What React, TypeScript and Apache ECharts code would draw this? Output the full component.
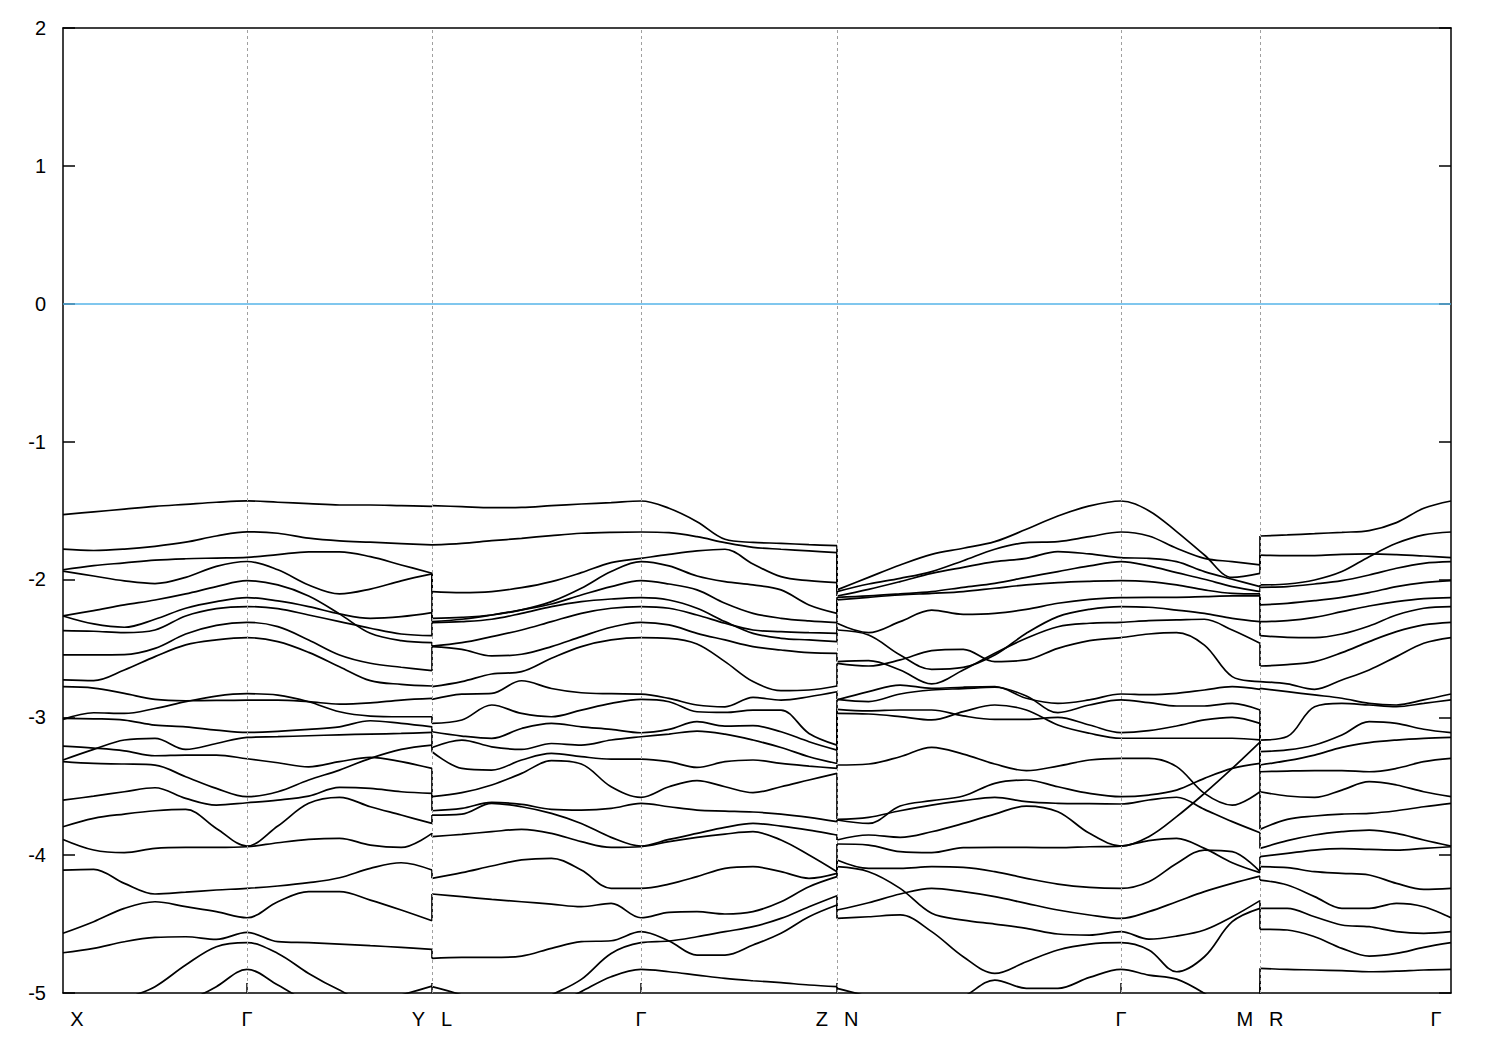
import React, { useEffect, useRef } from "react";
import * as echarts from "echarts";

// k-path (arbitrary distance units along the path)
const PATH_NODES = [0, 184, 369, 578, 774, 1058, 1197, 1388];
const NODE_LABELS = ["X", "Γ", "Y|L", "Γ", "Z|N", "Γ", "M|R", "Γ"];
const GRID_NODES = [184, 369, 578, 774, 1058, 1197];
const PANEL_NODES = [[0, 184, 369], [369, 578, 774], [774, 1058, 1197], [1197, 1388]];
const PANEL_STEPS = [[6, 6], [7, 7], [9, 5], [7]];
const FERMI = 0;

// Panel X-Γ-Y (13 k-points)
const XGY_BANDS = [
  [-1.53, -1.51, -1.49, -1.47, -1.455, -1.44, -1.43, -1.44, -1.45, -1.46, -1.46, -1.465, -1.47],
  [-1.78, -1.79, -1.78, -1.76, -1.73, -1.685, -1.655, -1.665, -1.70, -1.72, -1.73, -1.74, -1.75],
  [-1.93, -1.90, -1.88, -1.86, -1.85, -1.845, -1.84, -1.82, -1.80, -1.80, -1.835, -1.895, -1.955],
  [-1.94, -1.975, -2.01, -2.03, -1.985, -1.905, -1.87, -1.93, -2.04, -2.105, -2.07, -2.01, -1.96],
  [-2.265, -2.226, -2.185, -2.149, -2.105, -2.052, -2.009, -2.04, -2.12, -2.25, -2.391, -2.444, -2.458],
  [-2.265, -2.323, -2.347, -2.289, -2.209, -2.161, -2.132, -2.156, -2.197, -2.25, -2.282, -2.27, -2.241],
  [-2.371, -2.376, -2.386, -2.367, -2.265, -2.212, -2.197, -2.212, -2.258, -2.306, -2.354, -2.396, -2.408],
  [-2.548, -2.548, -2.546, -2.5, -2.396, -2.333, -2.311, -2.342, -2.439, -2.548, -2.608, -2.637, -2.662],
  [-2.729, -2.734, -2.657, -2.56, -2.475, -2.439, -2.422, -2.451, -2.529, -2.633, -2.734, -2.761, -2.773],
  [-2.778, -2.788, -2.827, -2.87, -2.88, -2.878, -2.875, -2.875, -2.887, -2.904, -2.895, -2.875, -2.863],
  [-3.015, -2.967, -2.972, -2.936, -2.887, -2.846, -2.829, -2.839, -2.887, -2.96, -2.991, -2.996, -2.996],
  [-3.008, -3.011, -3.02, -3.057, -3.069, -3.093, -3.11, -3.102, -3.088, -3.069, -3.025, -3.044, -3.069],
  [-3.31, -3.233, -3.165, -3.153, -3.233, -3.19, -3.146, -3.141, -3.134, -3.127, -3.122, -3.117, -3.11],
  [-3.209, -3.223, -3.243, -3.279, -3.274, -3.274, -3.301, -3.33, -3.359, -3.322, -3.291, -3.322, -3.371],
  [-3.322, -3.335, -3.339, -3.347, -3.431, -3.516, -3.576, -3.54, -3.455, -3.383, -3.298, -3.233, -3.202],
  [-3.601, -3.572, -3.54, -3.511, -3.588, -3.637, -3.62, -3.601, -3.572, -3.509, -3.516, -3.54, -3.552],
  [-3.794, -3.733, -3.702, -3.678, -3.668, -3.806, -3.934, -3.789, -3.624, -3.581, -3.649, -3.709, -3.77],
  [-3.886, -3.963, -3.982, -3.951, -3.944, -3.944, -3.939, -3.91, -3.886, -3.878, -3.927, -3.944, -3.842],
  [-4.108, -4.103, -4.205, -4.282, -4.268, -4.253, -4.241, -4.224, -4.2, -4.164, -4.096, -4.055, -4.108],
  [-4.567, -4.483, -4.386, -4.338, -4.374, -4.41, -4.454, -4.338, -4.265, -4.265, -4.326, -4.398, -4.476],
  [-4.708, -4.676, -4.628, -4.597, -4.592, -4.611, -4.56, -4.628, -4.635, -4.645, -4.657, -4.669, -4.684],
  [-5.341, -5.196, -5.051, -4.954, -4.797, -4.664, -4.635, -4.713, -4.858, -4.979, -5.075, -5.015, -4.95],
  [-5.583, -5.462, -5.341, -5.22, -5.075, -4.954, -4.829, -4.942, -5.075, -5.196, -5.293, -5.341, -5.39],
];

// Panel L-Γ-Z (15 k-points)
const LGZ_BANDS = [
  [-1.465, -1.472, -1.479, -1.477, -1.465, -1.453, -1.443, -1.431, -1.484, -1.581, -1.709, -1.731, -1.738, -1.748, -1.755],
  [-1.75, -1.738, -1.719, -1.702, -1.682, -1.665, -1.658, -1.656, -1.661, -1.69, -1.733, -1.767, -1.781, -1.793, -1.806],
  [-2.088, -2.096, -2.088, -2.06, -2.016, -1.951, -1.878, -1.847, -1.818, -1.793, -1.781, -1.888, -1.98, -2.009, -2.023],
  [-2.282, -2.275, -2.258, -2.221, -2.161, -2.064, -1.943, -1.871, -1.902, -1.975, -2.016, -2.04, -2.076, -2.185, -2.246],
  [-2.306, -2.289, -2.258, -2.221, -2.178, -2.113, -2.052, -2.009, -2.033, -2.076, -2.173, -2.246, -2.282, -2.301, -2.313],
  [-2.313, -2.306, -2.289, -2.246, -2.197, -2.161, -2.142, -2.132, -2.149, -2.209, -2.306, -2.391, -2.427, -2.439, -2.451],
  [-2.483, -2.459, -2.415, -2.367, -2.306, -2.246, -2.209, -2.197, -2.209, -2.258, -2.318, -2.367, -2.379, -2.386, -2.391],
  [-2.487, -2.507, -2.555, -2.543, -2.487, -2.415, -2.347, -2.311, -2.33, -2.391, -2.439, -2.487, -2.512, -2.531, -2.536],
  [-2.778, -2.741, -2.686, -2.669, -2.572, -2.487, -2.439, -2.422, -2.427, -2.468, -2.596, -2.741, -2.807, -2.802, -2.773],
  [-2.87, -2.832, -2.827, -2.735, -2.791, -2.822, -2.829, -2.832, -2.863, -2.911, -2.924, -2.856, -2.875, -2.851, -2.815],
  [-3.044, -3.02, -2.911, -2.972, -2.996, -2.948, -2.899, -2.87, -2.887, -2.96, -2.965, -2.948, -2.948, -3.117, -3.202],
  [-3.105, -3.136, -3.153, -3.081, -3.044, -3.069, -3.088, -3.112, -3.088, -3.032, -3.064, -3.061, -3.105, -3.177, -3.238],
  [-3.219, -3.165, -3.214, -3.233, -3.19, -3.202, -3.165, -3.141, -3.122, -3.1, -3.122, -3.165, -3.219, -3.286, -3.335],
  [-3.25, -3.371, -3.383, -3.31, -3.262, -3.286, -3.303, -3.303, -3.322, -3.364, -3.322, -3.31, -3.335, -3.354, -3.371],
  [-3.576, -3.547, -3.491, -3.407, -3.315, -3.339, -3.504, -3.581, -3.504, -3.46, -3.504, -3.547, -3.504, -3.455, -3.407],
  [-3.678, -3.661, -3.617, -3.632, -3.668, -3.673, -3.661, -3.624, -3.649, -3.673, -3.68, -3.687, -3.702, -3.726, -3.757],
  [-3.709, -3.702, -3.624, -3.649, -3.697, -3.77, -3.871, -3.934, -3.886, -3.842, -3.799, -3.77, -3.789, -3.818, -3.854],
  [-3.866, -3.849, -3.83, -3.813, -3.842, -3.902, -3.944, -3.939, -3.902, -3.871, -3.847, -3.83, -3.89, -3.999, -4.12],
  [-4.168, -4.127, -4.079, -4.035, -4.023, -4.108, -4.241, -4.241, -4.21, -4.156, -4.096, -4.084, -4.12, -4.168, -4.132],
  [-4.282, -4.301, -4.321, -4.338, -4.355, -4.374, -4.35, -4.454, -4.415, -4.41, -4.427, -4.41, -4.338, -4.229, -4.156],
  [-4.749, -4.742, -4.742, -4.732, -4.676, -4.628, -4.621, -4.555, -4.623, -4.725, -4.725, -4.652, -4.567, -4.447, -4.362],
  [-5.583, -5.39, -5.244, -5.124, -5.015, -4.901, -4.713, -4.635, -4.623, -4.592, -4.555, -4.519, -4.459, -4.374, -4.294],
  [-5.704, -5.535, -5.341, -5.196, -5.099, -4.99, -4.882, -4.829, -4.846, -4.87, -4.894, -4.911, -4.925, -4.942, -4.954],
  [-4.954, -5.015, -5.099, -5.22, -5.341, -5.462, -5.583, -5.704, -5.75, -5.75, -5.7, -5.6, -5.5, -5.45, -5.4],
];

// Panel N-Γ-M (15 k-points)
const NGM_BANDS = [
  [-2.076, -1.985, -1.895, -1.818, -1.774, -1.726, -1.636, -1.54, -1.467, -1.431, -1.501, -1.653, -1.823, -1.985, -1.956],
  [-2.088, -2.033, -1.992, -1.943, -1.864, -1.781, -1.733, -1.726, -1.69, -1.656, -1.685, -1.774, -1.847, -1.871, -1.895],
  [-2.12, -2.072, -2.016, -1.956, -1.912, -1.871, -1.847, -1.798, -1.815, -1.842, -1.847, -1.871, -1.943, -1.999, -2.052],
  [-2.13, -2.12, -2.105, -2.088, -2.057, -2.028, -1.985, -1.943, -1.902, -1.871, -1.902, -1.951, -1.999, -2.052, -2.088],
  [-2.149, -2.13, -2.113, -2.101, -2.088, -2.064, -2.04, -2.023, -2.014, -2.009, -2.016, -2.04, -2.076, -2.101, -2.105],
  [-2.318, -2.386, -2.306, -2.222, -2.253, -2.246, -2.217, -2.173, -2.144, -2.132, -2.13, -2.13, -2.125, -2.12, -2.12],
  [-2.367, -2.403, -2.548, -2.652, -2.638, -2.548, -2.391, -2.27, -2.217, -2.197, -2.202, -2.222, -2.246, -2.282, -2.306],
  [-2.596, -2.589, -2.657, -2.758, -2.657, -2.536, -2.427, -2.343, -2.318, -2.311, -2.299, -2.294, -2.289, -2.367, -2.463],
  [-2.609, -2.628, -2.584, -2.517, -2.507, -2.596, -2.584, -2.5, -2.444, -2.422, -2.396, -2.386, -2.476, -2.705, -2.741],
  [-2.874, -2.814, -2.766, -2.79, -2.782, -2.778, -2.862, -2.899, -2.874, -2.831, -2.836, -2.826, -2.802, -2.778, -2.797],
  [-2.87, -2.886, -2.831, -2.802, -2.792, -2.782, -2.845, -2.966, -2.911, -2.874, -2.894, -2.918, -2.918, -2.899, -2.947],
  [-2.942, -2.954, -2.947, -2.947, -2.99, -3.015, -3.015, -3.0, -3.056, -3.111, -3.097, -3.063, -3.019, -3.0, -3.044],
  [-2.971, -2.976, -2.995, -3.019, -2.959, -2.911, -2.947, -3.056, -3.116, -3.152, -3.152, -3.152, -3.152, -3.152, -3.164],
  [-3.346, -3.339, -3.286, -3.218, -3.267, -3.339, -3.387, -3.354, -3.31, -3.298, -3.298, -3.358, -3.552, -3.637, -3.54],
  [-3.745, -3.77, -3.644, -3.605, -3.571, -3.479, -3.455, -3.504, -3.552, -3.576, -3.564, -3.528, -3.443, -3.371, -3.334],
  [-3.74, -3.726, -3.678, -3.637, -3.605, -3.581, -3.612, -3.624, -3.627, -3.629, -3.6, -3.58, -3.668, -3.757, -3.837],
  [-3.89, -3.854, -3.871, -3.83, -3.77, -3.702, -3.644, -3.685, -3.842, -3.934, -3.866, -3.721, -3.552, -3.371, -3.18],
  [-3.919, -3.927, -3.975, -3.982, -3.946, -3.944, -3.944, -3.946, -3.939, -3.934, -3.895, -3.878, -3.951, -4.055, -4.127],
  [-4.035, -4.096, -4.096, -4.084, -4.089, -4.12, -4.168, -4.21, -4.234, -4.241, -4.193, -4.06, -3.963, -3.975, -4.12],
  [-4.084, -4.12, -4.241, -4.422, -4.471, -4.5, -4.531, -4.572, -4.58, -4.555, -4.609, -4.587, -4.543, -4.447, -4.33],
  [-4.398, -4.345, -4.282, -4.241, -4.265, -4.301, -4.35, -4.398, -4.434, -4.459, -4.41, -4.338, -4.265, -4.205, -4.152],
  [-4.459, -4.447, -4.434, -4.555, -4.737, -4.858, -4.773, -4.688, -4.645, -4.635, -4.688, -4.846, -4.737, -4.483, -4.386],
  [-4.966, -5.027, -5.099, -5.099, -5.027, -4.906, -4.966, -4.966, -4.887, -4.829, -4.87, -4.899, -5.003, -5.148, -5.22],
];

// Panel R-Γ (8 k-points)
const RG_BANDS = [
  [-1.685, -1.677, -1.668, -1.658, -1.646, -1.588, -1.484, -1.431],
  [-1.823, -1.827, -1.827, -1.818, -1.815, -1.82, -1.83, -1.842],
  [-2.04, -2.033, -2.004, -1.943, -1.835, -1.738, -1.677, -1.656],
  [-2.057, -2.052, -2.033, -2.009, -1.968, -1.919, -1.883, -1.871],
  [-2.185, -2.173, -2.154, -2.13, -2.096, -2.052, -2.023, -2.009],
  [-2.306, -2.299, -2.275, -2.234, -2.193, -2.161, -2.139, -2.132],
  [-2.408, -2.42, -2.422, -2.396, -2.338, -2.258, -2.209, -2.197],
  [-2.628, -2.618, -2.596, -2.531, -2.451, -2.379, -2.33, -2.311],
  [-2.741, -2.758, -2.797, -2.729, -2.657, -2.56, -2.463, -2.422],
  [-2.79, -2.814, -2.838, -2.862, -2.899, -2.911, -2.874, -2.831],
  [-3.165, -3.14, -2.923, -2.899, -2.911, -2.923, -2.899, -2.874],
  [-3.249, -3.237, -3.201, -3.128, -3.032, -3.044, -3.087, -3.111],
  [-3.346, -3.315, -3.274, -3.218, -3.184, -3.165, -3.153, -3.146],
  [-3.395, -3.39, -3.387, -3.387, -3.395, -3.371, -3.322, -3.298],
  [-3.54, -3.571, -3.581, -3.528, -3.467, -3.491, -3.54, -3.576],
  [-3.813, -3.74, -3.716, -3.702, -3.697, -3.678, -3.649, -3.624],
  [-3.951, -3.895, -3.854, -3.83, -3.818, -3.842, -3.89, -3.934],
  [-4.011, -3.987, -3.963, -3.953, -3.958, -3.963, -3.951, -3.939],
  [-4.084, -4.091, -4.12, -4.132, -4.144, -4.205, -4.248, -4.241],
  [-4.181, -4.217, -4.301, -4.386, -4.386, -4.35, -4.374, -4.454],
  [-4.386, -4.386, -4.447, -4.507, -4.519, -4.555, -4.567, -4.555],
  [-4.538, -4.543, -4.592, -4.676, -4.732, -4.713, -4.669, -4.635],
  [-4.821, -4.829, -4.833, -4.838, -4.846, -4.841, -4.833, -4.829],
];

const PANEL_BANDS = [XGY_BANDS, LGZ_BANDS, NGM_BANDS, RG_BANDS];

const Y_MIN = -5;
const Y_MAX = 2;
const Y_STEP = 1;

function kGrid(nodes: number[], steps: number[]): number[] {
  const out: number[] = [nodes[0]];
  for (let s = 0; s < steps.length; s++) {
    const a = nodes[s];
    const b = nodes[s + 1];
    for (let j = 1; j <= steps[s]; j++) out.push(a + ((b - a) * j) / steps[s]);
  }
  return out;
}

const FONT = "'Liberation Sans', Arial, Helvetica, sans-serif";

export default function App() {
  const ref = useRef<HTMLDivElement>(null);

  useEffect(() => {
    if (!ref.current) return;
    const chart = echarts.init(ref.current, undefined, { renderer: "svg" });

    const bandLine = { color: "#000000", width: 1.7 };
    const series: any[] = [];

    // vertical dashed guide lines at high-symmetry points
    series.push({
      type: "line",
      data: [],
      silent: true,
      z: 1,
      markLine: {
        symbol: "none",
        silent: true,
        label: { show: false },
        lineStyle: { color: "#a0a0a0", width: 1, type: [3, 3] },
        data: GRID_NODES.map((x) => ({ xAxis: x })),
      },
    });

    // Fermi level
    series.push({
      type: "line",
      data: [],
      silent: true,
      z: 2,
      markLine: {
        symbol: "none",
        silent: true,
        label: { show: false },
        lineStyle: { color: "#56b4e9", width: 1.6, type: "solid" },
        data: [{ yAxis: FERMI }],
      },
    });

    PANEL_BANDS.forEach((bands, p) => {
      const grid = kGrid(PANEL_NODES[p], PANEL_STEPS[p]);
      bands.forEach((band) => {
        series.push({
          type: "line",
          data: grid.map((k, i) => [k, band[i]]),
          showSymbol: false,
          symbol: "none",
          smooth: 0.35,
          clip: true,
          silent: true,
          z: 3,
          lineStyle: bandLine,
        });
      });
    });

    // vertical connectors at path discontinuities (bands paired by energy rank)
    for (let p = 0; p < PANEL_BANDS.length - 1; p++) {
      const nodes = PANEL_NODES[p];
      const xd = nodes[nodes.length - 1];
      const ends = PANEL_BANDS[p].map((b) => b[b.length - 1]).sort((a, b) => b - a);
      const starts = PANEL_BANDS[p + 1].map((b) => b[0]).sort((a, b) => b - a);
      const n = Math.min(ends.length, starts.length);
      for (let i = 0; i < n; i++) {
        series.push({
          type: "line",
          data: [
            [xd, ends[i]],
            [xd, starts[i]],
          ],
          showSymbol: false,
          symbol: "none",
          clip: true,
          silent: true,
          z: 3,
          lineStyle: bandLine,
        });
      }
    }

    const axisLineStyle = { color: "#000000", width: 1.5 };

    const labelText = (v: number) => {
      const idx = PATH_NODES.indexOf(v);
      if (idx < 0) return "";
      const lab = NODE_LABELS[idx];
      if (idx === 0) return `{first|${lab}}`;
      if (idx === PATH_NODES.length - 1) return `{last|${lab}}`;
      if (lab.includes("|")) {
        const [a, b] = lab.split("|");
        return `{n|${a}}{m|${b}}`;
      }
      return `{n|${lab}}`;
    };

    const richBase = { fontSize: 20, color: "#000", fontFamily: FONT };

    chart.setOption({
      animation: false,
      backgroundColor: "#ffffff",
      grid: { left: 63, top: 28, width: 1388, height: 965, containLabel: false },
      xAxis: [
        {
          type: "value",
          position: "bottom",
          min: PATH_NODES[0],
          max: PATH_NODES[PATH_NODES.length - 1],
          axisLine: { show: true, onZero: false, lineStyle: axisLineStyle },
          axisTick: {
            show: true,
            inside: true,
            length: 10,
            customValues: GRID_NODES,
            lineStyle: { color: "#000", width: 1.5 },
          },
          splitLine: { show: false },
          axisLabel: {
            show: true,
            customValues: PATH_NODES,
            margin: 16,
            formatter: labelText,
            rich: {
              n: { ...richBase },
              m: { ...richBase, padding: [0, 0, 0, 16] },
              first: { ...richBase, padding: [0, 0, 0, 28] },
              last: { ...richBase, padding: [0, 30, 0, 0] },
            },
          },
        },
        {
          type: "value",
          position: "top",
          min: PATH_NODES[0],
          max: PATH_NODES[PATH_NODES.length - 1],
          axisLine: { show: true, onZero: false, lineStyle: axisLineStyle },
          axisTick: { show: false },
          axisLabel: { show: false },
          splitLine: { show: false },
        },
      ],
      yAxis: [
        {
          type: "value",
          position: "left",
          min: Y_MIN,
          max: Y_MAX,
          interval: Y_STEP,
          axisLine: { show: true, onZero: false, lineStyle: axisLineStyle },
          axisTick: { show: true, inside: true, length: 12, lineStyle: { color: "#000", width: 1.5 } },
          splitLine: { show: false },
          axisLabel: { show: true, fontSize: 20, color: "#000", fontFamily: FONT, margin: 17 },
        },
        {
          type: "value",
          position: "right",
          min: Y_MIN,
          max: Y_MAX,
          interval: Y_STEP,
          axisLine: { show: true, onZero: false, lineStyle: axisLineStyle },
          axisTick: { show: true, inside: true, length: 12, lineStyle: { color: "#000", width: 1.5 } },
          splitLine: { show: false },
          axisLabel: { show: false },
        },
      ],
      series,
    });

    return () => {
      chart.dispose();
    };
  }, []);

  return (
    <div
      ref={ref}
      style={{ position: "fixed", left: 0, top: 0, width: "1500px", height: "1050px", background: "#fff" }}
    />
  );
}
